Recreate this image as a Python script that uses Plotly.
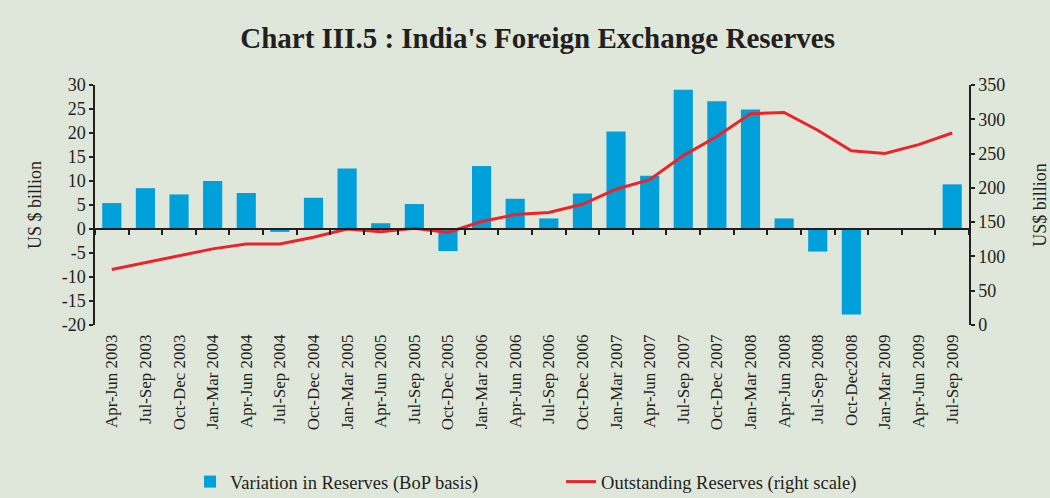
import plotly.graph_objects as go

categories = ["Apr-Jun 2003", "Jul-Sep 2003", "Oct-Dec 2003", "Jan-Mar 2004", "Apr-Jun 2004",
              "Jul-Sep 2004", "Oct-Dec 2004", "Jan-Mar 2005", "Apr-Jun 2005", "Jul-Sep 2005",
              "Oct-Dec 2005", "Jan-Mar 2006", "Apr-Jun 2006", "Jul-Sep 2006", "Oct-Dec 2006",
              "Jan-Mar 2007", "Apr-Jun 2007", "Jul-Sep 2007", "Oct-Dec 2007", "Jan-Mar 2008",
              "Apr-Jun 2008", "Jul-Sep 2008", "Oct-Dec2008", "Jan-Mar 2009", "Apr-Jun 2009",
              "Jul-Sep 2009"]

variation = [5.4, 8.5, 7.2, 10.0, 7.5, -0.6, 6.5, 12.6, 1.2, 5.2, -4.6, 13.1, 6.3,
             2.2, 7.4, 20.3, 11.1, 29.0, 26.6, 24.9, 2.2, -4.7, -17.8, 0.2, 0.0, 9.3]

outstanding = [81, 91, 102, 111, 118, 118, 128, 140, 136, 141, 135, 151, 161,
               164, 176, 198, 212, 247, 275, 308, 310, 284, 254, 250, 263, 280]

left_ticks = [-20, -15, -10, -5, 0, 5, 10, 15, 20, 25, 30]
left_tick_labels = ["-20", "-15", "-10", "-5", "0", "5", "10", "15", "20", "25", "30"]

FONT = "Liberation Serif"
BG = "#dfe6da"
INK = "#231f20"
xr = [-0.5, len(categories) - 0.5]

fig = go.Figure()
fig.add_trace(go.Bar(x=categories, y=variation, name="Variation in Reserves (BoP basis)",
                     marker=dict(color="#00a0da", line=dict(width=0)),
                     xaxis="x", yaxis="y"))
fig.add_trace(go.Scatter(x=categories, y=outstanding, name="Outstanding Reserves (right scale)",
                         mode="lines", line=dict(color="#ee2229", width=3),
                         xaxis="x2", yaxis="y2"))

fig.update_layout(
    width=1050, height=498,
    paper_bgcolor=BG, plot_bgcolor=BG,
    margin=dict(l=95, r=81, t=85, b=173, autoexpand=False),
    font=dict(family=FONT, size=17, color=INK),
    title=dict(text="<b>Chart III.5 : India's Foreign Exchange Reserves</b>",
               x=0.512, xanchor="center", y=0.923, yanchor="middle",
               font=dict(family=FONT, size=29, color=INK)),
    bargap=0.43,
    showlegend=True,
    legend=dict(orientation="h", xref="container", yref="container",
                x=0.181, xanchor="left", y=0.032, yanchor="middle",
                font=dict(family=FONT, size=18.5, color=INK), bgcolor="rgba(0,0,0,0)",
                entrywidth=326, entrywidthmode="pixels"),
    xaxis=dict(type="category", categoryorder="array", categoryarray=categories,
               range=xr, automargin=False,
               tickangle=-90, showline=False, ticks="", showgrid=False,
               ticklabelstandoff=5,
               tickfont=dict(family=FONT, size=17, color=INK)),
    xaxis2=dict(type="category", categoryorder="array", categoryarray=categories,
                range=xr, automargin=False,
                overlaying="x", anchor="free", position=0.4, side="bottom",
                showticklabels=False, ticks="outside", tickson="boundaries",
                ticklen=5, tickcolor=INK, tickwidth=1.5,
                showline=True, linecolor=INK, linewidth=1.5, showgrid=False),
    yaxis=dict(range=[-20, 30], tickmode="array", tickvals=left_ticks, ticktext=left_tick_labels,
               showgrid=False, zeroline=False, automargin=False,
               showline=True, linecolor=INK, linewidth=1.5,
               ticks="outside", ticklen=4, tickcolor=INK, tickwidth=1.5,
               tickfont=dict(family=FONT, size=18, color=INK),
               title=dict(text="US $ billion", font=dict(family=FONT, size=18, color=INK), standoff=15)),
    yaxis2=dict(range=[0, 350], dtick=50, overlaying="y", side="right", anchor="x",
                showgrid=False, zeroline=False, automargin=False,
                showline=True, linecolor=INK, linewidth=1.5,
                ticks="outside", ticklen=4, tickcolor=INK, tickwidth=1.5,
                tickfont=dict(family=FONT, size=18, color=INK),
                title=dict(text="US$ billion", font=dict(family=FONT, size=18, color=INK), standoff=30)),
)

fig.write_html("out.html", config={"displayModeBar": False},
               post_script="document.body.style.margin='0';")
